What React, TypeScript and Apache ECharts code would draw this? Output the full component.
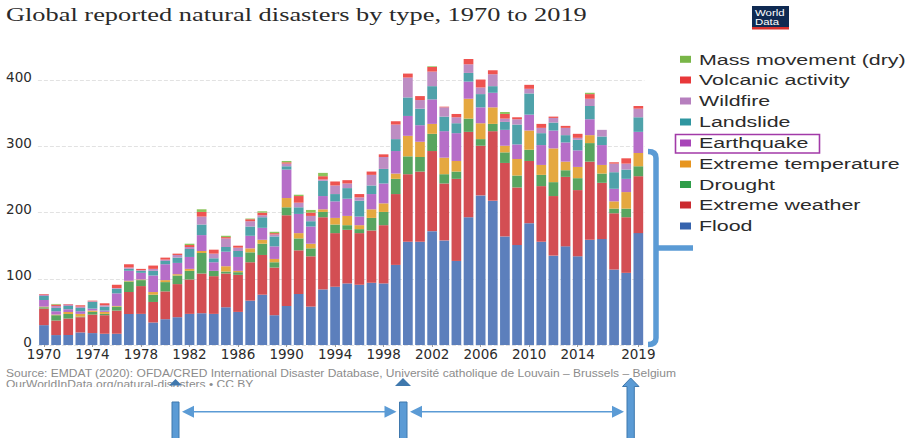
import React, { useEffect, useRef } from "react";
import * as echarts from "echarts";

const years = Array.from({ length: 50 }, (_, i) => String(1970 + i));
const shownYears = ["1970", "1974", "1978", "1982", "1986", "1990", "1994", "1998", "2002", "2006", "2010", "2014", "2019"];

const flood = [30,15,15,19,18,17,17,47,47,34, 39,42,47,48,47,57,50,67,76,45, 59,77,58,84,88,93,91,94,93,121, 156,156,172,158,127,193,226,218,164,151, 184,156,135,149,134,159,160,114,109,169];
const extremeWeather = [25,22,25,23,28,28,35,33,42,31, 42,50,52,60,57,51,56,58,60,72, 137,66,76,109,81,81,78,79,88,107, 102,106,121,86,124,129,75,105,111,87, 94,84,90,105,100,118,85,85,84,86];
const drought = [2,8,7,1,4,2,6,16,9,11, 14,13,13,31,8,3,4,15,17,8, 12,18,12,8,13,7,6,19,20,23, 27,22,26,14,11,20,10,11,16,18, 17,17,21,10,18,28,14,7,13,15];
const extremeTemperature = [1,1,3,4,2,3,1,1,1,4, 3,2,3,3,0,8,2,6,6,5, 14,8,7,4,10,14,6,13,13,8, 31,23,15,25,16,30,24,25,10,25, 29,15,51,13,17,12,13,11,25,20];
const earthquake = [10,5,4,4,3,2,19,15,10,25, 24,17,18,24,13,22,21,19,18,19, 43,29,26,20,25,26,13,23,30,34, 30,25,37,40,42,26,24,22,24,22, 24,30,27,29,25,24,30,19,20,32];
const landslide = [6,5,5,5,10,6,7,3,3,7, 5,8,12,16,6,7,9,14,16,15, 5,10,8,23,11,16,24,13,22,18, 28,25,20,22,15,13,20,10,12,30, 32,18,12,11,16,20,13,25,14,22];
const wildfire = [2,3,2,2,1,2,1,2,1,3, 2,4,3,12,7,13,5,8,3,3, 4,7,8,2,13,7,5,16,18,22, 30,13,22,14,9,13,10,18,5,8, 7,8,7,11,3,11,10,13,9,13];
const volcanic = [1,2,1,2,1,3,5,5,2,5, 3,2,3,7,6,2,3,3,4,2, 2,10,5,5,6,5,5,5,4,5, 6,6,7,1,5,8,12,6,7,3, 6,6,2,3,6,7,0,2,8,4];
const massMovement = [0,1,0,0,0,0,0,0,0,0, 0,0,2,4,0,2,0,1,2,2, 2,2,4,5,0,0,0,0,0,0, 0,0,1,0,0,0,0,0,3,0, 0,0,0,0,0,2,0,0,0,0];

const seriesNames = ["Flood", "Extreme weather", "Drought", "Extreme temperature", "Earthquake", "Landslide", "Wildfire", "Volcanic activity", "Mass movement (dry)"];
const seriesValues = [flood, extremeWeather, drought, extremeTemperature, earthquake, landslide, wildfire, volcanic, massMovement];
const barColors = ["#5c7fbc", "#d34e53", "#58a560", "#e5a840", "#b66ec8", "#4fa2aa", "#bd8dc3", "#ef5350", "#8cc45c"];
const keyColors = ["#3563ad", "#cb2b30", "#2f9e49", "#e7951f", "#a845b8", "#2f96a0", "#b67fbe", "#e8383a", "#79b648"];

const titleText = "Global reported natural disasters by type, 1970 to 2019";
const sourceText = "Source: EMDAT (2020): OFDA/CRED International Disaster Database, Université catholique de Louvain – Brussels – Belgium";
const linkText = "OurWorldInData.org/natural-disasters • CC BY";

const ANNOTATION_BLUE = "#5b9bd5";
const ANNOTATION_EDGE = "#3f78ad";
const SANS = '"Liberation Sans", Arial, sans-serif';

echarts.graphic.registerShape(
  "rangeBracket",
  echarts.graphic.extendPath(
    "M648 151.5 Q656 151.5 656 158 L656 338 Q656 344.5 648 344.5 M656 248 L693 248",
    {}
  )
);

// Legend rows, listed top to bottom: last stacked series first.
function keyRows() {
  const rowY = [59.3, 80, 101, 122, 143, 164, 184.5, 205, 226];
  return seriesNames
    .map((name, i) => ({ name, color: keyColors[i] }))
    .reverse()
    .flatMap((row, i) => [
      { type: "rect", shape: { x: 680, y: rowY[i] - 3.5, width: 11, height: 7 }, style: { fill: row.color } },
      {
        type: "text",
        x: 699,
        y: rowY[i],
        scaleX: 1.38,
        style: { text: row.name, fontFamily: SANS, fontSize: 15.5, fill: "#2b2b2b", verticalAlign: "middle", align: "left" },
      },
    ]);
}

function doubleArrow(x1: number, x2: number, y: number) {
  return [
    { type: "line", shape: { x1: x1 + 8, y1: y, x2: x2 - 8, y2: y }, style: { stroke: ANNOTATION_BLUE, lineWidth: 1.4 } },
    { type: "polygon", shape: { points: [[x1, y], [x1 + 12, y - 6], [x1 + 12, y + 6]] }, style: { fill: ANNOTATION_BLUE } },
    { type: "polygon", shape: { points: [[x2, y], [x2 - 12, y - 6], [x2 - 12, y + 6]] }, style: { fill: ANNOTATION_BLUE } },
  ];
}

function annotations() {
  const blueFill = { fill: ANNOTATION_BLUE, stroke: ANNOTATION_EDGE, lineWidth: 1 };
  return [
    // Two-line source note; the second line disappears behind the blank band below it.
    {
      type: "text", x: 6, y: 373, scaleX: 1.147,
      style: { text: sourceText, fontFamily: SANS, fontSize: 10.5, fill: "#8c8c8c", verticalAlign: "middle" },
    },
    {
      type: "text", x: 6, y: 384, scaleX: 1.147,
      style: { text: linkText, fontFamily: SANS, fontSize: 10.5, fill: "#8c8c8c", verticalAlign: "middle" },
    },
    { type: "rect", shape: { x: 0, y: 387, width: 700, height: 14 }, style: { fill: "#ffffff" } },

    { type: "polygon", shape: { points: [[175.5, 379], [169, 385.5], [182, 385.5]] }, style: { fill: "#3f78ad" } },
    { type: "rect", shape: { x: 172, y: 402, width: 7, height: 40 }, style: blueFill },
    { type: "polygon", shape: { points: [[403, 378], [395, 386], [411, 386]] }, style: { fill: "#3f78ad" } },
    { type: "rect", shape: { x: 399.5, y: 402, width: 7.5, height: 40 }, style: blueFill },
    {
      type: "polygon",
      shape: { points: [[630.7, 378], [622.5, 386.5], [627, 386.5], [627, 442], [634.3, 442], [634.3, 386.5], [639, 386.5]] },
      style: blueFill,
    },
    ...doubleArrow(182, 396.5, 411.7),
    ...doubleArrow(410, 624, 411.7),

    { type: "rangeBracket", style: { fill: "none", stroke: ANNOTATION_BLUE, lineWidth: 5.5 } },
    { type: "rect", shape: { x: 675.5, y: 134.5, width: 144, height: 18.5 }, style: { fill: "none", stroke: "#a23aa8", lineWidth: 1.6 } },
  ];
}

function logo() {
  return [
    { type: "rect", shape: { x: 752, y: 6, width: 37, height: 21 }, style: { fill: "#0f2a52" } },
    { type: "rect", shape: { x: 752, y: 27, width: 37, height: 2.5 }, style: { fill: "#d8302c" } },
    { type: "text", x: 755, y: 12.5, scaleX: 1.2, style: { text: "World", fontFamily: SANS, fontSize: 9.5, fill: "#ffffff", verticalAlign: "middle" } },
    { type: "text", x: 755, y: 21.5, scaleX: 1.2, style: { text: "Data", fontFamily: SANS, fontSize: 9.5, fill: "#ffffff", verticalAlign: "middle" } },
  ];
}

export default function App() {
  const ref = useRef<HTMLDivElement>(null);

  useEffect(() => {
    const chart = echarts.init(ref.current!, undefined, { renderer: "svg" });
    chart.setOption({
      animation: false,
      backgroundColor: "#ffffff",
      textStyle: { fontFamily: SANS },
      grid: { left: 37.9, right: 264.6, top: 14, height: 331 },
      xAxis: {
        type: "category",
        data: years,
        axisLine: { show: false },
        axisTick: {
          show: true,
          length: 2,
          alignWithLabel: true,
          interval: (_: number, value: string) => shownYears.includes(value),
          lineStyle: { color: "#999999" },
        },
        axisLabel: {
          interval: (_: number, value: string) => shownYears.includes(value),
          margin: 2,
          fontFamily: '"DejaVu Sans", sans-serif',
          fontSize: 13.5,
          color: "#2b2b2b",
        },
      },
      yAxis: {
        type: "value",
        min: 0,
        max: 500,
        interval: 100,
        axisLine: { show: false },
        axisTick: { show: false },
        axisLabel: {
          margin: 6,
          showMaxLabel: false,
          // The labels sit slightly above their gridlines.
          verticalAlign: "bottom",
          lineHeight: 7,
          fontFamily: '"DejaVu Sans", sans-serif',
          fontSize: 13.5,
          color: "#2b2b2b",
        },
        splitLine: { showMaxLine: false, lineStyle: { color: "#e2e2e2", type: "dashed", width: 1 } },
      },
      series: seriesNames.map((name, i) => ({
        name,
        type: "bar",
        stack: "disasters",
        barWidth: 9.7,
        data: seriesValues[i],
        itemStyle: { color: barColors[i] },
      })),
      graphic: [
        {
          type: "text", x: 6, y: 14, scaleX: 1.353,
          style: { text: titleText, fontFamily: '"Liberation Serif", serif', fontSize: 19.5, fill: "#2a2a2a", verticalAlign: "middle" },
        },
        ...logo(),
        ...keyRows(),
        ...annotations(),
      ],
    });
    return () => chart.dispose();
  }, []);

  return <div ref={ref} style={{ position: "absolute", left: 0, top: 0, width: 909, height: 438 }} />;
}
